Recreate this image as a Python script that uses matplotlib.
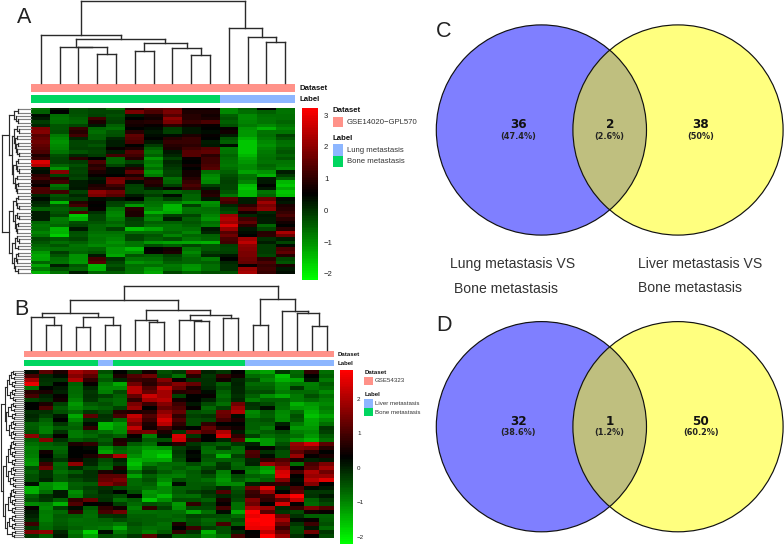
import matplotlib
matplotlib.use("Agg")
import matplotlib.pyplot as plt
import numpy as np
from matplotlib.colors import LinearSegmentedColormap, ListedColormap, Normalize
from matplotlib.patches import Circle, Rectangle
from matplotlib.cm import ScalarMappable

W, H = 784, 544
plt.rcParams['font.family'] = ['Liberation Sans', 'DejaVu Sans']

# ---- data: expression levels in tenths ----
heat_a = [
[-8,3,-4,-2,-8,9,14,16,6,6,-12,-6,5,-8],
[-6,5,-4,-3,-3,18,13,18,8,8,-12,-8,-6,-9],
[4,-8,-5,-2,-4,3,8,14,9,7,-6,-12,-8,-8],
[2,-9,-6,12,-3,5,7,20,9,8,-5,-12,-9,-8],
[-1,-8,-7,8,-2,8,9,18,11,13,-6,-11,-9,-7],
[1,-5,-3,3,-6,7,6,10,7,6,-4,-10,-12,-9],
[18,-5,11,-7,-8,5,4,-1,3,5,6,-13,-17,-11],
[19,-4,9,-8,-5,9,3,-2,3,4,7,-14,-9,-9],
[14,-10,12,-6,-4,15,4,4,8,6,2,-14,-8,-2],
[16,-12,1,-6,1,14,5,9,11,5,-5,-17,-10,-5],
[17,-13,-3,-3,2,13,3,11,11,2,-6,-20,-12,-8],
[15,-12,-3,-5,2,5,-1,9,10,3,4,-20,-13,-9],
[14,-11,-2,-2,6,8,-6,8,12,14,-10,-20,-11,-6],
[13,-9,-5,-3,2,14,-9,3,14,15,-9,-20,-10,-5],
[8,-4,1,-1,12,12,-6,1,14,10,-7,-18,-9,-7],
[11,-3,10,5,-7,9,-14,-2,6,12,-8,-15,-8,-5],
[28,-3,-1,13,-7,-3,-10,1,5,12,-9,-14,-9,-9],
[24,-7,-4,9,-3,2,-12,0,7,13,-10,-12,-7,-10],
[3,-13,-2,11,4,9,-8,-1,5,14,-8,-12,-8,-12],
[4,19,-3,8,4,15,-13,-3,7,-8,-6,-15,-13,2],
[10,-2,-1,6,5,8,-10,-2,7,-12,-4,-9,-17,-1],
[12,9,-3,3,17,13,8,-8,9,-13,-3,-8,2,-6],
[8,12,2,4,18,4,10,-7,11,-12,-2,-11,3,-18],
[6,-9,2,8,12,-2,8,-2,13,-2,-3,-19,5,-20],
[13,-6,3,10,9,-3,2,6,11,2,-3,-20,3,-16],
[13,12,-2,20,17,-3,-4,-7,-5,8,-5,-18,-9,-20],
[1,-5,1,18,14,2,-1,4,-7,9,-9,-18,-7,-19],
[4,-3,-1,4,3,5,-6,-1,-7,3,14,2,16,4],
[1,-18,9,6,-2,-4,-8,-10,-14,-13,12,2,22,3],
[0,-5,12,5,-3,-14,-9,-18,-2,-12,1,10,18,8],
[-6,-6,-4,6,-9,9,-11,-18,-9,-8,-2,14,20,9],
[2,-5,13,0,-11,8,-17,-16,-8,-9,-4,7,1,11],
[2,-3,-20,-3,-12,8,-9,-2,-3,-11,22,1,3,13],
[2,-10,-17,-3,-10,-1,-11,2,-6,-13,24,12,2,10],
[-7,-9,-4,-5,-7,-3,-6,-6,-5,-8,22,15,2,7],
[-9,-7,-3,-7,-9,-3,-8,-9,-6,-10,28,10,-7,5],
[-8,-18,3,-7,-2,-19,-15,-9,-8,3,21,3,-3,10],
[-11,-17,-4,-8,-8,-8,-8,-7,-11,1,14,4,9,23],
[-9,-21,-5,-10,-10,-3,-5,-11,-7,-6,17,5,10,17],
[-3,-5,-3,-9,-11,-3,-6,-4,-9,-7,13,22,0,2],
[-5,-8,-6,-10,-13,-9,-14,-15,-16,-17,12,25,2,-3],
[-7,-5,-9,-12,-11,-9,-4,-6,-3,-5,-2,20,-1,4],
[-9,-8,-8,-7,-14,-18,5,7,-9,-5,-3,19,-1,13],
[-14,-1,-7,-5,-14,-13,6,8,-12,-2,-2,18,-1,15],
[-16,-5,-13,3,-16,-5,-6,-2,-9,1,3,18,-3,9],
[-15,-8,-13,12,0,-9,-8,-4,-7,-10,5,17,10,-3],
[-7,-9,-14,14,-3,-13,-11,-6,-7,-6,1,16,13,-5],
[-15,2,-5,-18,-5,-8,-8,-10,-13,-8,0,6,11,8],
[-10,-4,-7,-17,-2,-9,-14,-9,-14,-8,0,21,12,3],
[-17,-9,2,-7,-6,-10,-16,-3,-7,-4,-4,23,11,4],
]
heat_b = [
[2,12,6,19,16,-6,3,-3,5,-6,-3,15,0,-3,3,-14,-16,-3,-9,8,-10],
[10,-1,2,16,12,-10,6,11,14,-4,-10,7,-3,8,5,-9,-11,-20,-8,3,-8],
[19,-2,-2,20,8,-7,-1,9,8,16,4,-2,-2,5,-1,-5,-13,-18,-16,1,-11],
[26,-3,3,-8,4,-11,-17,14,7,12,16,13,-2,-8,0,-9,-9,-14,-11,-12,-7],
[-10,3,1,-9,-1,-13,-13,21,11,22,13,6,-1,-5,-1,-7,-8,-13,-3,-11,-9],
[7,6,0,-9,-3,-12,-5,21,13,19,7,8,2,-8,-1,-5,-5,-11,-9,-9,-13],
[10,0,4,-10,-2,-4,-8,13,23,19,-4,3,4,-9,-2,-8,-14,-17,-11,-6,-10],
[-4,-2,5,-12,-3,-8,-9,8,19,21,5,3,0,-7,-1,-11,-8,-8,-11,-9,-12],
[3,6,-4,-15,-7,-6,-9,15,9,16,9,1,-5,-10,14,-2,-5,-9,-18,-15,-13],
[3,11,-7,-13,-10,-8,-4,18,3,13,11,4,-9,-4,18,-3,2,-10,-15,-16,-11],
[-2,-2,-6,-9,-3,-5,7,6,7,17,13,-6,-7,14,20,-13,-7,-13,-9,-18,-13],
[-1,-4,1,-17,12,-2,10,22,11,20,8,-4,-3,13,2,-12,-8,-14,-6,-20,-16],
[-2,-8,3,-13,-2,-3,-9,19,9,24,11,-6,-5,10,6,-7,-6,-13,-7,-17,-13],
[-8,-10,-3,-9,2,-19,-15,15,6,21,8,-6,8,3,3,-8,-8,0,-11,-16,-10],
[-7,-12,-7,-8,8,-18,-14,22,5,10,5,3,13,7,5,-8,-11,3,-15,-15,-3],
[-6,-12,-2,-11,-7,-10,-13,14,15,6,-3,15,11,20,1,-10,-7,-5,-12,-13,-4],
[17,-5,4,-11,-9,-6,-8,4,-12,2,24,-3,3,24,8,-4,-10,-8,-10,-15,-7],
[-7,16,-2,-7,-5,-8,6,1,-7,-6,23,8,3,-1,12,-18,-15,-9,-15,-18,-10],
[-10,-8,-6,6,8,-5,7,-7,-10,2,7,-3,-6,-8,-3,0,-15,-6,18,23,12],
[-12,-9,-9,3,2,-14,-8,-12,-15,-14,-4,0,-9,-3,-9,2,4,-3,16,15,7],
[-11,5,-8,3,3,-16,-9,-11,-18,-19,-3,3,-10,-11,-10,11,-2,-6,12,8,3],
[-12,3,-6,3,6,10,20,-14,-18,-22,-4,2,-6,-18,-4,10,2,-6,18,4,6],
[-14,1,-3,5,0,-5,0,-18,-16,-17,-6,3,-7,-8,-7,-1,8,11,6,0,1],
[-15,9,-9,17,-1,-7,-3,-20,-12,-9,-9,-5,-10,-3,-9,0,18,14,-10,10,15],
[-6,14,-8,-1,-5,-9,6,-17,-6,-10,-7,-10,-5,-2,-8,-10,-15,19,4,12,19],
[-8,-2,-10,-7,-2,6,2,-9,-3,-7,-10,-7,-2,-12,3,-12,-17,24,10,20,14],
[-6,-2,-7,-3,-2,12,12,-16,-8,-11,-12,-8,-6,-13,-5,-8,-10,25,3,18,18],
[-6,0,-7,-5,-3,13,15,-9,-6,-13,-6,-8,-10,-15,-7,-11,-8,16,2,21,25],
[2,-14,-16,-8,-7,16,12,-9,-8,-17,2,-7,-7,-13,-13,0,7,8,3,16,3],
[-18,-13,-17,-7,-4,-2,-5,-8,-10,-13,-8,-7,-5,-1,-7,14,25,0,10,2,1],
[-18,-10,1,-14,-5,-1,3,-6,-15,-13,-7,-4,-2,11,-5,9,18,3,12,-3,-3],
[-8,-2,1,-12,-4,-3,-5,3,-14,-19,-9,-10,-4,-1,-4,8,9,22,28,-2,1],
[-6,-3,-8,8,13,-2,-10,-7,-21,-14,-6,-6,-8,6,-5,16,8,12,22,-8,-3],
[-13,-12,-18,11,3,4,-4,-9,-6,-7,-15,8,-4,4,-10,14,3,24,4,-9,-5],
[4,-13,-4,2,-7,8,5,-12,8,-4,-14,-5,-5,10,-10,20,18,-1,9,15,11],
[1,-11,-9,8,-9,10,14,-10,-10,-9,-10,-17,-10,2,-17,28,12,-3,-5,5,4],
[0,-12,-7,-8,-10,-3,-2,-8,-8,-9,-8,-4,-5,-6,-9,26,30,14,-2,-8,-8],
[-2,-12,-8,-10,-9,-8,-5,-7,-8,-8,-9,-6,-9,-7,-5,30,30,19,2,4,-7],
[9,-10,-7,-9,-9,-9,-11,-6,-8,-10,6,-5,-8,10,-8,27,28,14,-3,9,-6],
[-3,-9,-6,-8,-10,-11,-17,-8,-10,-9,3,9,-4,-6,2,26,26,9,-6,1,-9],
[15,17,-1,-11,-22,2,-11,-8,-12,-7,8,-2,-18,-6,-1,3,22,13,-5,14,-3],
[-3,-8,1,-9,-16,-6,-7,-3,12,1,-8,-7,-14,-10,10,4,30,18,-2,3,-5],
]

# annotation tracks: 0 = bone metastasis, 1 = the other site
label_a = [0,0,0,0,0,0,0,0,0,0,1,1,1,1]
label_b = [0,0,0,0,0,1,0,0,0,0,0,0,0,0,0,1,1,1,1,1,1]

# dendrograms: [merge height, child, child]; 0 = next leaf
col_tree_a = [246,
    [143,0,[130,[108,0,[106,0,[85,0,0]]],[120,[96,0,0],[105,0,[82,0,0]]]]],
    [163,0,[136,0,[121,0,0]]]]
col_tree_b = [193,
    [150,[110,[98,0,[76,0,0]],[100,[70,0,0],[76,0,0]]],
         [120,[89,0,[83,0,0]],[106,[91,0,[86,0,0]],[97,0,0]]]],
    [152,[75,0,0],[118,0,[112,0,[73,0,0]]]]]
row_tree_a = [29.5,
    [22,[17,[13,0,0],[15,0,[13,0,0]]],
        [19,[17,[14,0,[12,0,0]],[16,[14,0,0],[15,[13,0,0],[14,0,[12,0,0]]]]],
            [18,[15,[13,0,0],[14,0,[12,0,0]]],[16,[14,0,0],[15,[13,0,0],[14,0,0]]]]]],
    [22,[18,[15,[13,0,0],[14,0,[12,0,0]]],[16,[14,0,[12,0,0]],[15,[13,0,0],[14,0,0]]]],
        [19,[16,[14,0,[12,0,0]],[13,0,0]],[17,[15,[13,0,0],[14,0,0]],[16,0,[13,0,0]]]]]]
s2 = [9,0,0]
s3 = [11,0,[9,0,0]]
s4 = [12,[9,0,0],[10,0,0]]
s5 = [13,[11,0,[9,0,0]],[10,0,0]]
row_tree_b = [23.5,
    [19,[17,[15,s5,s4],[14,s4,s3]],[18,[16,s5,s4],[15,s5,s5]]],
    [21,[18,[16,[14,s5,s4],s4],[16,s5,[14,s3,s3]]],
        [19,[16,[14,s5,s4],s4],[17,[15,s4,s4],s4]]]]

venn_c_counts = [36, 2, 38]
venn_c_pct = ['(47.4%)', '(2.6%)', '(50%)']
venn_d_counts = [32, 1, 50]
venn_d_pct = ['(38.6%)', '(1.2%)', '(60.2%)']

# ---- helpers ----
fig = plt.figure(figsize=(W/100, H/100), dpi=100, facecolor='white')

def axpx(x0, y0, x1, y1, **kw):
    return fig.add_axes([x0/W, 1-y1/H, (x1-x0)/W, (y1-y0)/H], **kw)

cmap = LinearSegmentedColormap.from_list('gkr', ['#00FF00', '#000000', '#FF0000'], N=100)
track_colors = ListedColormap(['#00D660', '#8DB6FF'])
SALMON = '#FF9289'
DCOL = '#2a2a2a'
LEAF = '#808080'

def draw_tree(ax, tree, horizontal=False, lw=1.0):
    counter = [0]
    def seg(xs, ys, col):
        if horizontal:
            ax.plot(ys, xs, color=col, lw=lw, clip_on=False, solid_capstyle='projecting')
        else:
            ax.plot(xs, ys, color=col, lw=lw, clip_on=False, solid_capstyle='projecting')
    def rec(node):
        if not isinstance(node, list):
            counter[0] += 1
            return counter[0]-0.5, 0, True
        pa, ha, la = rec(node[1])
        pb, hb, lb = rec(node[2])
        h = node[0]
        leaf_col = LEAF if horizontal else DCOL
        seg([pa, pa], [ha, h], leaf_col if la else DCOL)
        seg([pb, pb], [hb, h], leaf_col if lb else DCOL)
        seg([pa, pb], [h, h], DCOL)
        return (pa+pb)/2, h, False
    rec(tree)
    return counter[0]

def clean(ax):
    ax.set_xticks([]); ax.set_yticks([])
    for s in ax.spines.values():
        s.set_visible(False)

def heatmap_panel(data, labels, col_tree, row_tree, box, col_box, row_w, tracks,
                  cbar_box, vlim, ticks, fs, pad, row_lw):
    x0, y0, x1, y1 = box
    raw = np.array(data, dtype=float)
    # greens in the reference read darker than first estimated
    arr = np.where(raw < 0, raw*0.78, raw)/10
    norm = Normalize(*vlim)
    ax = axpx(x0, y0, x1, y1)
    ax.imshow(arr, cmap=cmap, norm=norm, aspect='auto', interpolation='nearest')
    clean(ax)
    t1 = axpx(x0, tracks[0], x1, tracks[1])
    t1.add_patch(Rectangle((0,0),1,1,color=SALMON,lw=0)); t1.set_xlim(0,1); t1.set_ylim(0,1); clean(t1)
    t2 = axpx(x0, tracks[2], x1, tracks[3])
    t2.imshow([labels], cmap=track_colors, aspect='auto', interpolation='nearest', vmin=0, vmax=1)
    clean(t2)
    cax = axpx(x0, col_box[0], x1, col_box[1])
    n = draw_tree(cax, col_tree)
    cax.set_xlim(0, n); cax.set_ylim(0, col_tree[0]); cax.axis('off')
    rax = axpx(x0-row_w, y0, x0, y1)
    m = draw_tree(rax, row_tree, horizontal=True, lw=row_lw)
    rax.set_xlim(row_w, 0); rax.set_ylim(m, 0); rax.axis('off')
    cb_ax = axpx(*cbar_box)
    cb = fig.colorbar(ScalarMappable(norm=norm, cmap=cmap), cax=cb_ax)
    cb.outline.set_visible(False)
    cb.set_ticks(ticks)
    cb.set_ticklabels([str(t).replace('-', '\u2212') for t in ticks])
    cb_ax.tick_params(length=0, labelsize=fs, pad=pad, colors='#222222')

heatmap_panel(heat_a, label_a, col_tree_a, row_tree_a, (31.3,107.7,294.7,274.3), (0.7,82.7), 30.5,
              (84.3,92,95.3,103.3), (302.3,107.7,317.7,280), (-2.19,3.23), [3,2,1,0,-1,-2], 5.6, 4.5, 0.85)
heatmap_panel(heat_b, label_b, col_tree_b, row_tree_b, (24,370,334,537.7), (285.7,350), 24,
              (351,357.3,360,366.3), (340,370,352.7,544), (-2.2,2.83), [2,1,0,-1,-2], 4.5, 3.2, 0.8)

# ---- overlay in pixel coordinates ----
ov = fig.add_axes([0,0,1,1], zorder=-1)
ov.set_xlim(0,W); ov.set_ylim(H,0); ov.axis('off')
tx = fig.add_axes([0,0,1,1], zorder=5)
tx.set_xlim(0,W); tx.set_ylim(H,0); tx.axis('off'); tx.patch.set_alpha(0)

def t(x, y, s, size, ha='left', bold=False, color='#111111', fam=None, stretch=None):
    kw = {}
    if fam: kw['family'] = fam
    if stretch: kw['stretch'] = stretch
    tx.text(x, y, s, fontsize=size, ha=ha, va='center', fontweight='bold' if bold else 'normal', color=color, **kw)

for x, y, s in [(16.5,17.5,'A'),(14.5,309.5,'B'),(436.3,31.5,'C'),(436.5,325.5,'D')]:
    t(x, y, s, 15.5, color='#222222')

# legends and track names, panel A
t(299.3,88.3,'Dataset',5.6,bold=True); t(299.3,99.3,'Label',5.6,bold=True)
t(332.7,110.7,'Dataset',5.6,bold=True); t(332.7,138.7,'Label',5.6,bold=True)
ov.add_patch(Rectangle((332.7,116.7),10.6,10.6,color=SALMON,lw=0))
ov.add_patch(Rectangle((332.7,144.3),10.6,11.2,color='#8DB6FF',lw=0))
ov.add_patch(Rectangle((332.7,155.5),10.6,11.2,color='#00D660',lw=0))
t(346.7,122,'GSE14020\u2212GPL570',5.6,color='#333333')
t(346.7,150.3,'Lung metastasis',5.6,color='#333333')
t(346.7,161.3,'Bone metastasis',5.6,color='#333333')
# panel B
t(338,354.7,'Dataset',4.4,bold=True); t(338,363.3,'Label',4.4,bold=True)
t(364.3,372,'Dataset',4.4,bold=True); t(364.3,394,'Label',4.4,bold=True)
ov.add_patch(Rectangle((364.3,376.7),9,8.6,color=SALMON,lw=0))
ov.add_patch(Rectangle((364.3,399),9,8.7,color='#8DB6FF',lw=0))
ov.add_patch(Rectangle((364.3,407.7),9,8.6,color='#00D660',lw=0))
t(375,380.7,'GSE54323',4.4,color='#333333')
t(375,403.3,'Liver metastasis',4.4,color='#333333')
t(375,412,'Bone metastasis',4.4,color='#333333')

def venn(cy, counts, pcts, dy1, dy2):
    r = 105.1
    lx, rx = 541.4, 678.0
    c1 = Circle((lx,cy),r,fc='#7F7FFF',ec='none'); ov.add_patch(c1)
    c2 = Circle((rx,cy),r,fc='#FFFF7F',ec='none'); ov.add_patch(c2)
    c3 = Circle((lx,cy),r,fc='#BFBF7F',ec='none'); ov.add_patch(c3)
    c3.set_clip_path(Circle((rx,cy),r,transform=ov.transData))
    for x in (lx,rx):
        ov.add_patch(Circle((x,cy),r,fc='none',ec='#111111',lw=0.85))
    for x,c,p in zip((518.3,609.7,701),counts,pcts):
        t(x,cy+dy1,str(c),9.6,ha='center',bold=True,fam='DejaVu Sans',stretch='condensed')
        t(x,cy+dy2,p,5.9,ha='center',bold=True,color='#222222',fam='DejaVu Sans')

venn(130,venn_c_counts,venn_c_pct,-5,6)
venn(426.7,venn_d_counts,venn_d_pct,-5,6)

t(450,264,'Lung metastasis VS',10.1,color='#333333')
t(454,288.7,'Bone metastasis',10.1,color='#333333')
t(637.7,264,'Liver metastasis VS',10.1,color='#333333')
t(637.7,288.3,'Bone metastasis',10.1,color='#333333')

fig.savefig('out.png', dpi=100)
